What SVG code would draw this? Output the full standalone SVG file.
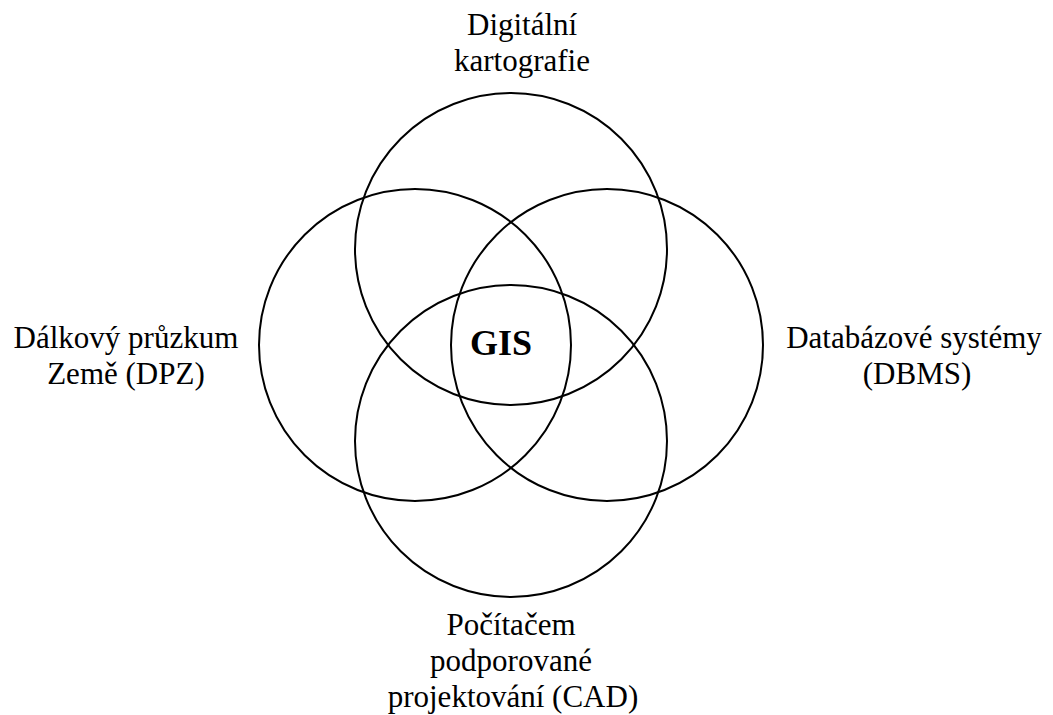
<svg xmlns="http://www.w3.org/2000/svg" width="1053" height="715" viewBox="0 0 1053 715">
<style>
.c{fill:none;stroke:#000;stroke-width:2}
</style>
<rect width="1053" height="715" fill="#fff"/>
<g id="top"><circle class="c" cx="511" cy="249" r="156"/><text font-family="'Liberation Serif', 'Times New Roman', serif" font-size="31" x="467" y="35">Digitální</text><text font-family="'Liberation Serif', 'Times New Roman', serif" font-size="31" x="454" y="71">kartografie</text></g>
<g id="left"><circle class="c" cx="415" cy="345" r="156"/><text font-family="'Liberation Serif', 'Times New Roman', serif" font-size="31" x="13.6" y="348">Dálkový průzkum</text><text font-family="'Liberation Serif', 'Times New Roman', serif" font-size="31" x="47.2" y="384">Země (DPZ)</text></g>
<g id="right"><circle class="c" cx="607" cy="345" r="156"/><text font-family="'Liberation Serif', 'Times New Roman', serif" font-size="31" x="786.2" y="348">Databázové systémy</text><text font-family="'Liberation Serif', 'Times New Roman', serif" font-size="31" x="862.8" y="384">(DBMS)</text></g>
<g id="bottom"><circle class="c" cx="511" cy="441" r="156"/><text font-family="'Liberation Serif', 'Times New Roman', serif" font-size="31" x="446.4" y="635">Počítačem</text><text font-family="'Liberation Serif', 'Times New Roman', serif" font-size="31" x="430.1" y="671">podporované</text><text font-family="'Liberation Serif', 'Times New Roman', serif" font-size="31" x="387.7" y="707">projektování (CAD)</text></g>
<g id="gis"><text font-family="'Liberation Serif', 'Times New Roman', serif" font-size="36" font-weight="bold" x="470" y="355">GIS</text></g>
<g id="connectors"/>
</svg>
